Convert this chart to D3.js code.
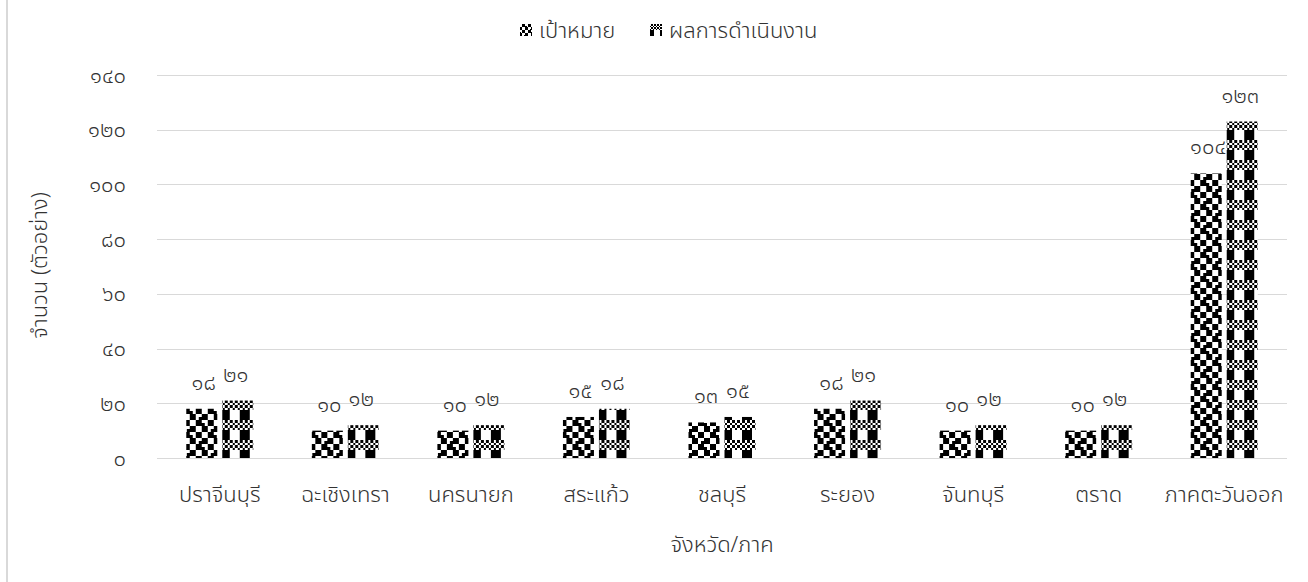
<!DOCTYPE html>
<html><head><meta charset="utf-8">
<script src="https://cdn.jsdelivr.net/npm/d3@7"></script>
<style>
html,body{margin:0;padding:0;background:#fff;}
svg{display:block;}
text{font-family:"Noto Sans Thai","Leelawadee UI",Tahoma,"Noto Sans","DejaVu Sans",sans-serif;fill:#333;font-weight:300;}
</style></head>
<body><svg id="c" width="1308" height="582"></svg>
<script>
const categories = ["ปราจีนบุรี","ฉะเชิงเทรา","นครนายก","สระแก้ว","ชลบุรี","ระยอง","จันทบุรี","ตราด","ภาคตะวันออก"];
const seriesNames = ["เป้าหมาย","ผลการดำเนินงาน"];
const targetValues = [18,10,10,15,13,18,10,10,104];
const resultValues = [21,12,12,18,15,21,12,12,123];
const yTicks = [0,20,40,60,80,100,120,140];
const xTitle = "จังหวัด/ภาค";
const yTitle = "จำนวน (ตัวอย่าง)";

const thaiDigits = "๐๑๒๓๔๕๖๗๘๙";
const toThai = n => String(n).replace(/[0-9]/g, d => thaiDigits[+d]);

const svg = d3.select("#c");
const defs = svg.append("defs");

const patBits = {
  p0: [0xCC,0xCE,0x33,0x73,0xCC,0xEC,0x33,0x37],
  p1: [0xAA,0x55,0xAA,0x55,0xF0,0xF0,0xF0,0xF0]
};
const patCell = {p0: 3, p1: 2.5};
function makePattern(id, rows, cell){
  const p = defs.append("pattern").attr("id",id).attr("patternUnits","userSpaceOnUse")
    .attr("width",cell*8).attr("height",cell*8);
  p.append("rect").attr("width",cell*8).attr("height",cell*8).attr("fill","#fff");
  rows.forEach((r,ri)=>{
    for(let b=0;b<8;b++){
      if(r & (0x80>>b)) p.append("rect").attr("x",b*cell).attr("y",ri*cell)
        .attr("width",cell).attr("height",cell).attr("fill","#000").attr("shape-rendering","crispEdges");
    }
  });
}
Object.entries(patBits).forEach(([id,rows])=>{
  makePattern(id, rows, patCell[id]);
  makePattern(id+"s", rows, 1.5);
});

svg.append("line").attr("x1",7).attr("x2",7).attr("y1",0).attr("y2",582)
  .attr("stroke","#d9d9d9").attr("stroke-width",2);

const FS = 22;
const x0 = 157, x1 = 1287, yTop = 75, yBot = 458;
const x = d3.scaleBand().domain(categories).range([x0,x1]).padding(0);
const y = d3.scaleLinear().domain([0,140]).range([yBot,yTop]);

svg.append("g").selectAll("line").data(yTicks).join("line")
  .attr("x1",x0).attr("x2",x1).attr("y1",d=>Math.round(y(d))+0.5).attr("y2",d=>Math.round(y(d))+0.5)
  .attr("stroke","#d9d9d9").attr("stroke-width",1);

const yAxis = d3.axisLeft(y).tickValues(yTicks).tickSize(0).tickPadding(0).tickFormat(toThai);
const ya = svg.append("g").attr("transform",`translate(126,0)`).call(yAxis);
ya.select(".domain").remove();
ya.attr("font-family",null).attr("font-size",null);
ya.selectAll("text").attr("font-size",FS).attr("fill","#333");

const xAxis = d3.axisBottom(x).tickSize(0).tickPadding(0);
const xa = svg.append("g").attr("transform",`translate(0,${yBot+28})`).call(xAxis);
xa.select(".domain").remove();
xa.attr("font-family",null).attr("font-size",null);
xa.selectAll("text").attr("font-size",FS).attr("fill","#333").attr("dy","0.71em");

const barW = 31, gap = 5;
const groups = svg.append("g").selectAll("g").data(categories).join("g")
  .attr("transform",d=>`translate(${x(d)+x.bandwidth()/2},0)`);
[targetValues,resultValues].forEach((vals,si)=>{
  const off = si===0 ? -gap/2-barW : gap/2;
  groups.append("rect")
    .attr("x",off).attr("width",barW)
    .attr("y",(d,i)=>y(vals[i])).attr("height",(d,i)=>yBot-y(vals[i]))
    .attr("fill",`url(#p${si})`);
  groups.append("text")
    .attr("x",off+barW/2 + (si===0?2:-2))
    .attr("y",(d,i)=>y(vals[i])-19)
    .attr("text-anchor","middle").attr("font-size",FS)
    .text((d,i)=>toThai(vals[i]));
});

svg.append("text").attr("x",(x0+x1)/2).attr("y",552).attr("text-anchor","middle")
  .attr("font-size",FS).text(xTitle);
svg.append("text").attr("transform",`translate(47,${(yTop+yBot)/2-1}) rotate(-90)`)
  .attr("text-anchor","middle").attr("font-size",FS).text(yTitle);

const leg = svg.append("g");
const legItems = [{x:520,name:seriesNames[0]},{x:650,name:seriesNames[1]}];
legItems.forEach((it,i)=>{
  leg.append("rect").attr("x",it.x).attr("y",24).attr("width",12).attr("height",12).attr("fill",`url(#p${i}s)`);
  leg.append("text").attr("x",it.x+19).attr("y",38).attr("font-size",FS).text(it.name);
});
</script></body></html>
